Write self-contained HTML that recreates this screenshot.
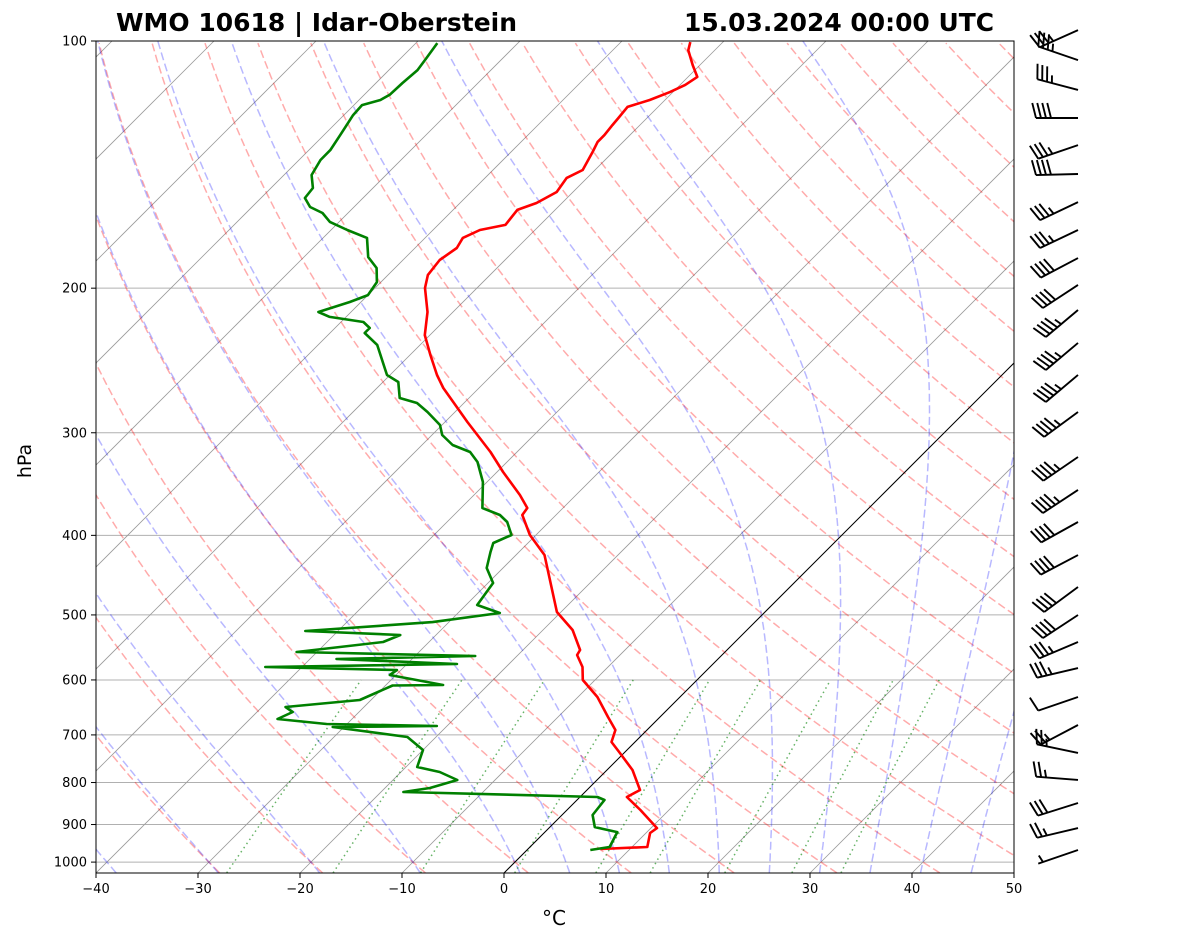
<!DOCTYPE html>
<html><head><meta charset="utf-8"><style>
html,body{margin:0;padding:0;background:#fff;}
svg{display:block;font-family:"DejaVu Sans","Liberation Sans",sans-serif;}
</style></head><body>
<svg id="chart" width="1181" height="941" viewBox="0 0 1181 941" xmlns="http://www.w3.org/2000/svg">
<defs><clipPath id="plotclip"><rect x="96" y="41" width="918" height="832"/></clipPath></defs>
<rect x="0" y="0" width="1181" height="941" fill="#fff"/>
<g id="bg" clip-path="url(#plotclip)"></g>
<g id="prof" clip-path="url(#plotclip)"></g>
<rect x="96" y="41" width="918" height="832" fill="none" stroke="#000" stroke-width="1"/>
<g id="axes"></g>
<g id="barbs"></g>
<text x="116" y="31" font-size="24.5" font-weight="bold" textLength="401" lengthAdjust="spacingAndGlyphs">WMO 10618 | Idar-Oberstein</text>
<text x="684" y="31" font-size="24.5" font-weight="bold" textLength="310" lengthAdjust="spacingAndGlyphs">15.03.2024 00:00 UTC</text>
<text x="554" y="925" font-size="20" text-anchor="middle">°C</text>
<text x="31" y="461" font-size="19" text-anchor="middle" transform="rotate(-90 31 461)">hPa</text>
</svg>
<script>
// ---- data ----
const tempP=[100.3,102.6,107.0,110.6,113.1,115.4,118.0,120.3,124.1,126.6,130.2,132.7,136.5,143.6,146.8,152.7,157.5,160.6,167.5,169.9,173.7,178.7,184.8,192.7,199.9,213.8,228.1,241.2,255.1,264.6,291.1,316.6,334.9,357.2,370.5,377.8,399.6,422.7,495.9,521.6,551.7,559.5,578.6,600.1,629.4,665.7,690.4,714.1,736.4,772.4,817.0,833.1,864.1,909.0,921.7,958.5,963.9];
const tempT=[-63.2,-62.6,-60.7,-59.1,-59.5,-60.3,-61.5,-63.0,-62.8,-62.7,-62.5,-62.5,-62.0,-61.2,-62.0,-61.6,-62.5,-63.7,-63.4,-65.4,-66.3,-65.9,-66.4,-66.1,-65.1,-62.5,-60.5,-58.0,-55.4,-53.5,-47.8,-42.6,-39.4,-35.5,-33.5,-33.3,-30.6,-27.2,-20.4,-17.1,-14.4,-14.2,-12.5,-11.2,-8.1,-5.1,-3.1,-2.3,-0.4,2.5,5.2,4.6,7.2,10.6,10.4,11.5,7.1];
const dewP=[100.6,104.9,108.5,112.5,116.3,118.0,119.7,123.1,130.2,135.8,139.6,145.6,151.0,155.3,159.3,162.0,166.1,169.9,173.7,183.3,189.0,196.6,203.9,207.9,213.8,216.8,219.9,223.6,226.8,234.5,250.2,255.1,260.2,272.1,276.0,283.0,293.5,301.9,310.5,316.6,325.6,344.4,370.5,377.8,385.3,399.6,408.7,419.1,438.3,457.2,486.3,497.3,510.1,523.1,529.0,539.5,554.8,561.0,565.8,573.8,578.6,583.5,591.8,608.6,609.5,634.7,647.3,656.5,669.5,679.0,682.8,684.7,704.2,730.3,766.0,776.8,794.3,812.4,821.6,833.1,840.2,876.3,906.5,919.3,958.5,966.6];
const dewT=[-87.9,-87.5,-87.2,-87.4,-87.5,-87.9,-89.2,-89.1,-88.4,-87.9,-87.9,-87.3,-85.9,-85.7,-84.3,-82.5,-80.9,-78.4,-75.7,-73.7,-71.8,-70.4,-70.0,-71.1,-73.2,-71.6,-67.8,-66.6,-66.6,-64.2,-61.2,-60.3,-58.5,-56.8,-54.6,-52.7,-50.2,-49.0,-47.0,-44.6,-42.9,-40.4,-37.9,-35.5,-34.1,-32.4,-33.4,-32.8,-31.6,-29.5,-28.9,-25.9,-31.6,-43.2,-33.5,-34.5,-42.0,-24.1,-37.4,-25.1,-43.6,-30.4,-30.6,-24.4,-29.3,-31.1,-37.7,-36.5,-37.3,-32.0,-21.0,-31.1,-22.8,-20.0,-18.9,-16.2,-13.7,-15.6,-17.8,1.7,2.7,3.0,4.4,7.1,7.8,6.2];
const barbP=[97.0,105.5,114.7,124.1,133.9,145.2,157.1,169.9,183.8,198.2,212.6,233.2,255.1,283.0,321.1,352.2,385.3,422.7,462.4,500.1,539.5,580.3,629.4,680.8,736.4,794.3,847.3,909.0,966.6];
const barbDir=[245.9,288.9,284.7,270,251.1,268.5,244.6,244.6,242.2,236.7,229.9,229.9,229.9,233.6,235.6,236.7,241,242.2,233.6,236.7,247.2,256.7,251.1,242.2,281.9,274.5,252.5,256.7,251.1];
const barbSpd=[35,35,35,40,35,40,35,35,40,40,45,45,45,45,45,45,40,40,40,40,35,35,10,25,25,25,30,25,5];
const xTicks=[-40,-30,-20,-10,0,10,20,30,40,50];
const yTicks=[100,200,300,400,500,600,700,800,900,1000];
const dryT0=[-30,-20,-10,0,10,20,30,40,50,60,70,80,90,100,110,120,130,140,150,160,170,180,190,200];
const moistT0=[-50,-40,-30,-20,-10,0,5,10,15,20,25,30,35,40,45];
const mixW=[0.0004,0.001,0.002,0.004,0.007,0.01,0.016,0.024,0.032];

// ---- axis functions ----
const PB=1030.6, PT=100;
function yp(p){return 41+356.6*Math.log(p/100);}
function xp(T,p){return 96+(T+40)*10.2+(873-yp(p));}
const NS='http://www.w3.org/2000/svg';
function mk(tag,attrs,parent){const e=document.createElementNS(NS,tag);for(const k in attrs)e.setAttribute(k,attrs[k]);parent.appendChild(e);return e;}
function pts(arrP,arrT){return arrP.map((p,i)=>xp(arrT[i],p).toFixed(1)+','+yp(p).toFixed(1)).join(' ');}
const bg=document.getElementById('bg'),prof=document.getElementById('prof'),axes=document.getElementById('axes'),barbs=document.getElementById('barbs');

yTicks.forEach(p=>{const l=mk('line',{x1:96,x2:1014,y1:yp(p),y2:yp(p),stroke:'#b0b0b0','stroke-width':1},bg);

});
for(let T=-160;T<=50;T+=10){const l=mk('line',{x1:xp(T,PB),y1:yp(PB),x2:xp(T,PT),y2:yp(PT),stroke:'#9a9a9a','stroke-width':0.8},bg);

}
const presList=[];for(let p=PB;p>=99;p-=5)presList.push(p);
dryT0.forEach(t0=>{const th=t0+273.15;const P=presList,TT=P.map(p=>th*Math.pow(p/1000,0.28571)-273.15);
const l=mk('polyline',{points:pts(P,TT),fill:'none',stroke:'rgba(255,0,0,0.33)','stroke-width':1.5,'stroke-dasharray':'8,3.6'},bg);

});
function esat(Tc){return 6.112*Math.exp(17.67*Tc/(Tc+243.5));}
function dTdp(p,T){const Rd=287.04,Cp=1005.7,Lv=2.501e6,eps=0.622;const es=esat(T-273.15);const rs=eps*es/(p-es);
return (1/p)*(Rd*T+Lv*rs)/(Cp+Lv*Lv*rs*eps/(Rd*T*T));}
function integ(T0,p0,p1,steps){let T=T0,p=p0;const h=(p1-p0)/steps;const out=[[p,T]];
for(let i=0;i<steps;i++){const k1=dTdp(p,T),k2=dTdp(p+h/2,T+h*k1/2),k3=dTdp(p+h/2,T+h*k2/2),k4=dTdp(p+h,T+h*k3);T+=h*(k1+2*k2+2*k3+k4)/6;p+=h;out.push([p,T]);}return out;}
moistT0.forEach(t0=>{const up=integ(t0+273.15,1000,100,180),dn=integ(t0+273.15,1000,PB,6);
const all=dn.reverse().concat(up.slice(1));const P=all.map(a=>a[0]),TT=all.map(a=>a[1]-273.15);
const l=mk('polyline',{points:pts(P,TT),fill:'none',stroke:'rgba(0,0,255,0.28)','stroke-width':1.5,'stroke-dasharray':'8,3.6'},bg);

});
mixW.forEach(w=>{const P=[],TT=[];for(let p=PB;p>=600;p-=10){P.push(p);const e=p*w/(0.622+w);const a=Math.log(e/6.112);TT.push(243.5*a/(17.67-a));}
P.push(600);{const e=600*w/(0.622+w);const a=Math.log(e/6.112);TT.push(243.5*a/(17.67-a));}
const l=mk('polyline',{points:pts(P,TT),fill:'none',stroke:'rgba(0,128,0,0.6)','stroke-width':1.5,'stroke-dasharray':'1.5,3.5'},bg);

});
{const l=mk('line',{x1:xp(0,PB),y1:yp(PB),x2:xp(0,PT),y2:yp(PT),stroke:'#000','stroke-width':1},bg);

}
{const l=mk('polyline',{points:pts(tempP,tempT),fill:'none',stroke:'#ff0000','stroke-width':2.6,'stroke-linejoin':'round'},prof);

}
{const l=mk('polyline',{points:pts(dewP,dewT),fill:'none',stroke:'#008000','stroke-width':2.6,'stroke-linejoin':'round'},prof);

}
xTicks.forEach(T=>{const x=96+(T+40)*10.2;
const t=mk('line',{x1:x,x2:x,y1:873,y2:878,stroke:'#000','stroke-width':1},axes);


const tx=mk('text',{x:x,y:893,'font-size':13,'text-anchor':'middle'},axes);tx.textContent=(T<0?'\u2212'+(-T):''+T);

});
yTicks.forEach(p=>{const y=yp(p);
const t=mk('line',{x1:91,x2:96,y1:y,y2:y,stroke:'#000','stroke-width':1},axes);


const tx=mk('text',{x:87,y:y+4.5,'font-size':13,'text-anchor':'end'},axes);tx.textContent=''+p;

});
barbP.forEach((p,i)=>{const d=barbDir[i]*Math.PI/180;const ux=Math.sin(d),uy=-Math.cos(d);const px=-uy,py=ux;
const tx=1078,ty=yp(p),L=42,H=15,S=5;const ex=tx+L*ux,ey=ty+L*uy;
const g=mk('g',{stroke:'#000','stroke-width':1.9,fill:'none','stroke-linecap':'butt'},barbs);


mk('line',{x1:tx,y1:ty,x2:ex,y2:ey},g);
let spd=Math.round(barbSpd[i]/5)*5;let full=Math.floor(spd/10),half=(spd%10)>=5?1:0;let pos=0;
if(full===0&&half)pos=S;
for(let k=0;k<full;k++){const bx=ex-pos*ux,by=ey-pos*uy;mk('line',{x1:bx,y1:by,x2:bx+H*px+H*0.25*ux,y2:by+H*py+H*0.25*uy},g);pos+=S;}
if(half){const bx=ex-pos*ux,by=ey-pos*uy;const h=H/2;mk('line',{x1:bx,y1:by,x2:bx+h*px+h*0.25*ux,y2:by+h*py+h*0.25*uy},g);}
});
</script>
</body></html>
